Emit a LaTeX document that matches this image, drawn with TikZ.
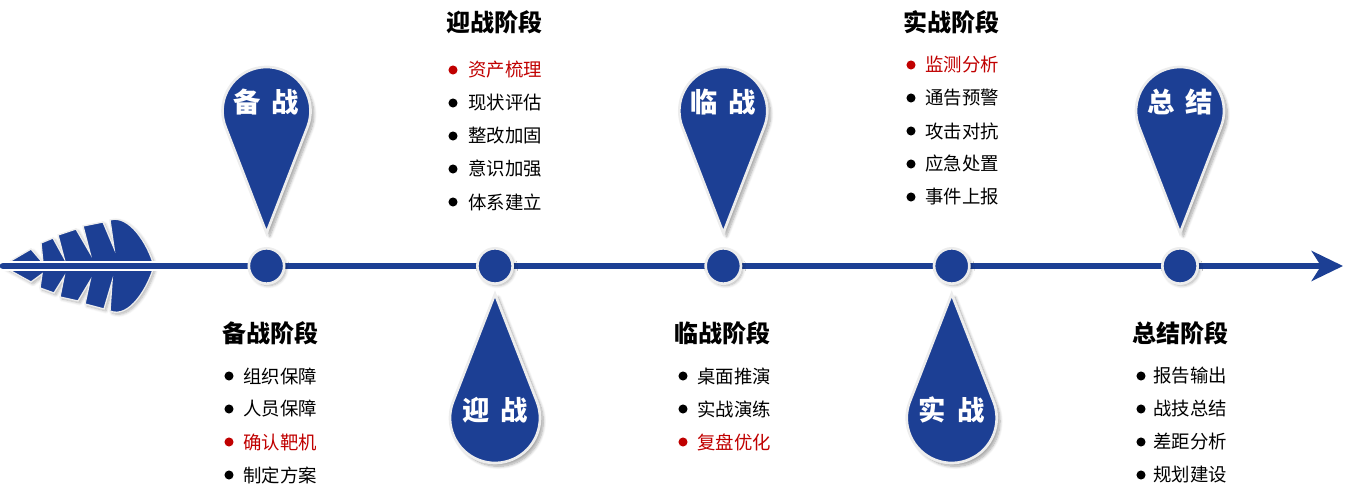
\documentclass[tikz,border=0pt]{standalone}
\usepackage{fontspec}
\setmainfont{Noto Sans CJK SC}
\usetikzlibrary{shadows.blur,calc,arrows.meta}
\definecolor{pinblue}{HTML}{1C3F94}
\definecolor{itemred}{HTML}{C00000}
\definecolor{rimgray}{HTML}{EDEDED}
\newcommand\uppin[3]{%
  \path[pinshape] (#1,266) -- ($(#1,388)+(-21.14:44)$) arc[start angle=-21.14,end angle=201.14,radius=44] -- cycle;
  \node[pintext] (#2) at (#1,397) {#3};
}
\newcommand\downpin[3]{%
  \path[pinshape] (#1,205) -- ($(#1,81)+(158.72:45)$) arc[start angle=158.72,end angle=381.28,radius=45] -- cycle;
  \node[pintext] (#2) at (#1,89) {#3};
}
\newcommand\bitem[6]{% name, bullet x, text offset, y, colour, text
  \node[bul,fill=#5] (#1b) at (#2,#4) {};
  \node[itemtext,text=#5] (#1) at (#2+#3,#4) {#6};
}
\begin{document}
\begin{tikzpicture}[x=0.75pt,y=0.75pt,
  pinshape/.style={fill=pinblue,draw=rimgray,line width=2pt,
    blur shadow={shadow xshift=2.5pt,shadow yshift=-2.5pt,shadow blur steps=8,shadow opacity=35}},
  pintext/.style={text=white,font=\bfseries\fontsize{20.5}{22}\selectfont,inner sep=0pt},
  dotnode/.style={circle,fill=pinblue,draw=rimgray,line width=2pt,minimum size=26.5pt,inner sep=0pt,
    blur shadow={shadow xshift=1.5pt,shadow yshift=-1.5pt,shadow blur steps=6,shadow opacity=30}},
  leafshape/.style={fill=pinblue,draw=rimgray,line width=1pt,line join=miter,
    blur shadow={shadow xshift=1.5pt,shadow yshift=-1.5pt,shadow blur steps=6,shadow opacity=30}},
  spine/.style={pinblue,line width=5pt,line cap=round},
  heading/.style={font=\bfseries\fontsize{18}{20}\selectfont,text=black,inner sep=0pt},
  itemtext/.style={font=\fontsize{13.8}{16}\selectfont,anchor=west,inner sep=0pt},
  bul/.style={circle,minimum size=6.8pt,inner sep=0pt,draw=none}
]
\useasboundingbox (0,0) rectangle (1345,499);

% leaf
\begin{scope}[shift={(0,233)}]
  \path[leafshape] (2,0) -- (31,17) -- (43,3) -- (41,23) -- (53,28) -- (64,8) -- (58,31) -- (76,37) -- (90,13) -- (83,40) -- (103,44) -- (114,18) -- (110,46) .. controls (129,52) and (148,22) .. (154,0) -- cycle;
  \path[leafshape] (2,0) -- (31,-16) -- (42,-8) -- (40,-22) -- (54,-27) -- (64,-11) -- (60,-31) -- (78,-35) -- (90,-15) -- (85,-38) -- (104,-43) -- (112,-16) -- (110,-45) .. controls (129,-53) and (148,-22) .. (154,0) -- cycle;
\end{scope}

% spine
\coordinate (s0) at (3,233);
\coordinate (tip) at (1343,233);
\draw[white,line width=7.5pt,line cap=round] (s0) -- (1318,233);
\draw[spine,-{Stealth[length=23.5pt,width=22.5pt,inset=7pt,line cap=butt]}] (s0) -- (tip);

% pins
\uppin{266.5}{p1}{备\hspace{0.4em}战}
\downpin{495}{p2}{迎\hspace{0.4em}战}
\uppin{723.3}{p3}{临\hspace{0.4em}战}
\downpin{951.7}{p4}{实\hspace{0.4em}战}
\uppin{1180}{p5}{总\hspace{0.4em}结}

% dots on the axis
\node[dotnode] (c1) at (266.5,233) {};
\node[dotnode] (c2) at (495,233) {};
\node[dotnode] (c3) at (723.3,233) {};
\node[dotnode] (c4) at (951.7,233) {};
\node[dotnode] (c5) at (1180,233) {};

% headings
\node[heading] (h1) at (270,166) {备战阶段};
\node[heading] (h2) at (494,477) {迎战阶段};
\node[heading] (h3) at (722,166) {临战阶段};
\node[heading] (h4) at (951,477) {实战阶段};
\node[heading] (h5) at (1180,166) {总结阶段};

% lists
\bitem{a1}{229}{14}{123}{black}{组织保障}
\bitem{a2}{229}{14}{90}{black}{人员保障}
\bitem{a3}{229}{14}{57}{itemred}{确认靶机}
\bitem{a4}{229}{14}{24}{black}{制定方案}

\bitem{b1}{453}{15}{429}{itemred}{资产梳理}
\bitem{b2}{453}{15}{396}{black}{现状评估}
\bitem{b3}{453}{15}{363}{black}{整改加固}
\bitem{b4}{453}{15}{330}{black}{意识加强}
\bitem{b5}{453}{15}{297}{black}{体系建立}

\bitem{d1}{683}{14}{123}{black}{桌面推演}
\bitem{d2}{683}{14}{90}{black}{实战演练}
\bitem{d3}{683}{14}{57}{itemred}{复盘优化}

\bitem{e1}{911}{14}{434}{itemred}{监测分析}
\bitem{e2}{911}{14}{401}{black}{通告预警}
\bitem{e3}{911}{14}{368}{black}{攻击对抗}
\bitem{e4}{911}{14}{335}{black}{应急处置}
\bitem{e5}{911}{14}{302}{black}{事件上报}

\bitem{f1}{1141}{12}{123}{black}{报告输出}
\bitem{f2}{1141}{12}{90}{black}{战技总结}
\bitem{f3}{1141}{12}{57}{black}{差距分析}
\bitem{f4}{1141}{12}{24}{black}{规划建设}
\end{tikzpicture}
\end{document}
